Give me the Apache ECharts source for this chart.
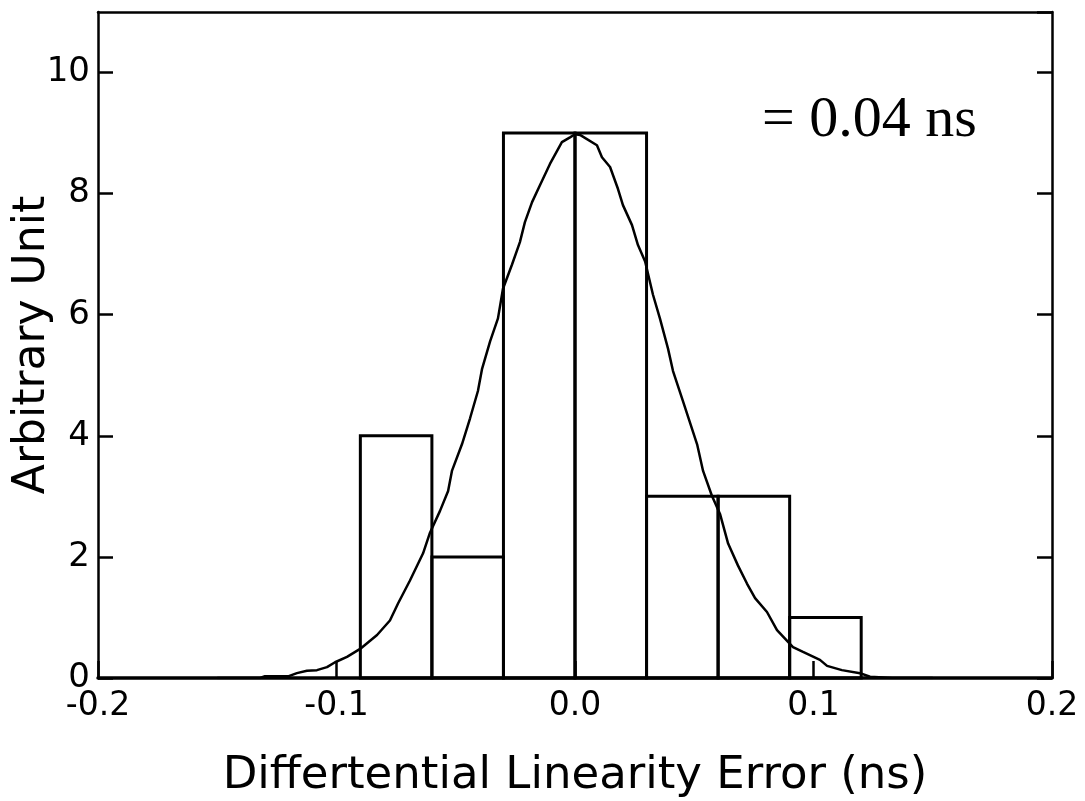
<!DOCTYPE html>
<html>
<head>
<meta charset="utf-8">
<script src="https://cdn.jsdelivr.net/npm/echarts@6/dist/echarts.min.js"></script>
<style>html,body{margin:0;padding:0;background:#fff;}#c{width:1085px;height:801px;}</style>
</head>
<body>
<div id="c"></div>
<script>
const binStart = [-0.09, -0.06, -0.03, 0.0, 0.03, 0.06, 0.09];
const binWidth = 0.03;
const binCount = [4, 2, 9, 9, 3, 3, 1];
const curveX = [-0.15,-0.132,-0.130,-0.120,-0.1166,-0.1124,-0.1082,-0.104,-0.1006,-0.0956,-0.0901,-0.083,-0.0776,-0.0742,-0.0692,-0.0637,-0.0608,-0.0566,-0.0532,-0.0516,-0.0474,-0.0440,-0.0407,-0.039,-0.0356,-0.0323,-0.0302,-0.0264,-0.0231,-0.0210,-0.0180,-0.0147,-0.0105,-0.0055,-0.0021,0.0,0.0021,0.0092,0.0113,0.0147,0.0180,0.0201,0.0239,0.0264,0.0294,0.0327,0.0356,0.0390,0.0411,0.0453,0.0512,0.0537,0.0574,0.0608,0.0642,0.0683,0.0721,0.0755,0.0805,0.0847,0.0914,0.0956,0.1027,0.1057,0.1119,0.1195,0.1237,0.133,0.15];
const curveY = [0,0,0.03,0.03,0.08,0.12,0.13,0.18,0.26,0.35,0.48,0.71,0.95,1.23,1.61,2.06,2.40,2.76,3.09,3.42,3.86,4.29,4.74,5.10,5.56,5.94,6.43,6.83,7.20,7.53,7.86,8.14,8.49,8.85,8.93,8.98,8.97,8.80,8.60,8.44,8.08,7.81,7.48,7.15,6.88,6.33,5.94,5.44,5.07,4.57,3.86,3.42,3.01,2.71,2.22,1.86,1.56,1.32,1.09,0.79,0.51,0.43,0.30,0.20,0.13,0.08,0.02,0,0];
const annotation = '= 0.04 ns';

const chart = echarts.init(document.getElementById('c'), null, {renderer: 'canvas'});
const barData = binStart.map((s, i) => [s, s + binWidth, binCount[i]]);
const curveData = curveX.map((x, i) => [x, curveY[i]]);
const font = 'DejaVu Sans';

chart.setOption({
  animation: false,
  backgroundColor: '#fff',
  grid: {left: 98, right: 33, top: 12, bottom: 123, containLabel: false, outerBoundsMode: 'none'},
  xAxis: [{
    type: 'value', min: -0.2, max: 0.2, interval: 0.1,
    position: 'bottom',
    name: 'Differtential Linearity Error (ns)', nameLocation: 'middle', nameGap: 76,
    nameMoveOverlap: false,
    nameTextStyle: {fontFamily: font, fontSize: 45, color: '#000'},
    axisLine: {show: true, onZero: false, lineStyle: {color: '#000', width: 3.5}},
    axisTick: {show: true, inside: true, length: 17, lineStyle: {color: '#000', width: 2.5}},
    axisLabel: {fontFamily: font, fontSize: 33, color: '#000', margin: 12,
      formatter: v => (Math.abs(v) < 1e-9 ? '0.0' : v.toFixed(1))},
    splitLine: {show: false}
  }, {
    type: 'value', min: -0.2, max: 0.2, interval: 0.1, position: 'top',
    axisLine: {show: true, onZero: false, lineStyle: {color: '#000', width: 2.5}},
    axisTick: {show: false}, axisLabel: {show: false}, splitLine: {show: false}
  }],
  yAxis: [{
    type: 'value', min: 0, max: 11, interval: 2, position: 'left',
    name: 'Arbitrary Unit', nameLocation: 'middle', nameGap: 43,
    nameMoveOverlap: false,
    nameTextStyle: {fontFamily: font, fontSize: 44, color: '#000'},
    axisLine: {show: true, onZero: false, lineStyle: {color: '#000', width: 2.5}},
    axisTick: {show: true, inside: true, length: 15, lineStyle: {color: '#000', width: 2.5}},
    axisLabel: {fontFamily: font, fontSize: 34, color: '#000', margin: 8, showMaxLabel: false},
    splitLine: {show: false}
  }, {
    type: 'value', min: 0, max: 11, interval: 2, position: 'right',
    axisLine: {show: true, onZero: false, lineStyle: {color: '#000', width: 2.5}},
    axisTick: {show: true, inside: true, length: 15, lineStyle: {color: '#000', width: 2.5}},
    axisLabel: {show: false}, splitLine: {show: false}
  }],
  series: [{
    type: 'custom',
    data: barData,
    encode: {x: [0, 1], y: 2},
    renderItem: function (params, api) {
      const p0 = api.coord([api.value(0), api.value(2)]);
      const p1 = api.coord([api.value(1), 0]);
      return {
        type: 'rect',
        shape: {x: p0[0], y: p0[1], width: p1[0] - p0[0], height: p1[1] - p0[1]},
        style: {fill: 'rgba(0,0,0,0)', stroke: '#000', lineWidth: 3}
      };
    },
    z: 2
  }, {
    type: 'line',
    data: curveData,
    showSymbol: false,
    smooth: false,
    lineStyle: {color: '#000', width: 2.5},
    z: 3
  }],
  graphic: [{
    type: 'text', left: 762, top: 92,
    style: {text: annotation, font: '58px "Liberation Serif"', fill: '#000'}
  }]
});
</script>
</body>
</html>
